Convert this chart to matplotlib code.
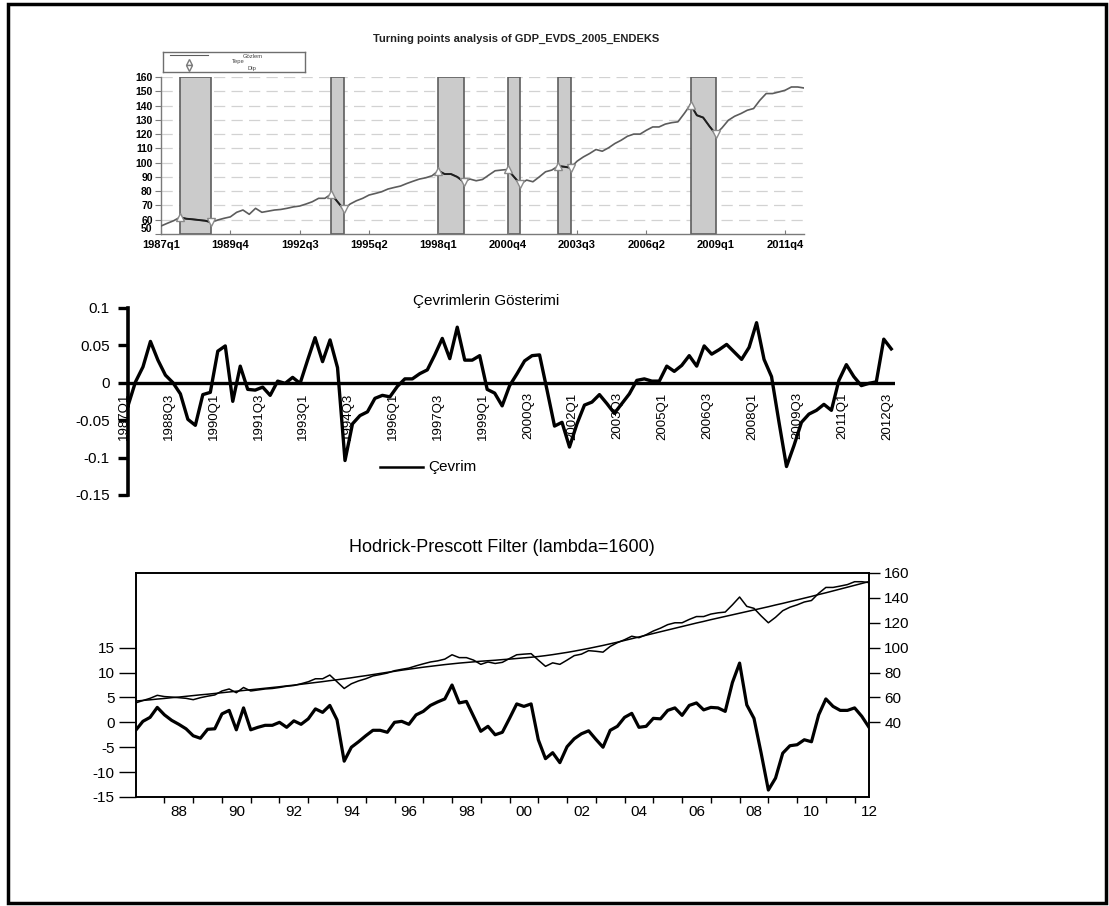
import numpy as np
import matplotlib
matplotlib.use("Agg")
import matplotlib.pyplot as plt
from matplotlib.lines import Line2D
from matplotlib.patches import Rectangle

plt.rcParams['font.family'] = ['Liberation Sans', 'DejaVu Sans']
plt.rcParams['axes.unicode_minus'] = False

W, H = 1109, 906

# GDP_EVDS_2005_ENDEKS, quarterly 1987q1 - 2012q3
gdp = [
    55.6, 57.5, 59.3, 61.7, 60.7, 60.3, 59.8, 59.3, 58.2, 59.8,
    61.0, 62.0, 65.2, 66.8, 63.8, 68.0, 65.2, 66.0, 66.8, 67.2,
    68.0, 69.0, 69.6, 71.0, 72.6, 75.0, 75.0, 78.0, 72.6, 67.2,
    71.0, 73.3, 75.0, 77.3, 78.4, 79.6, 81.5, 82.6, 83.6, 85.4,
    87.0, 88.5, 89.4, 90.8, 94.3, 92.0, 92.0, 90.0, 86.6, 88.5,
    87.3, 88.2, 91.3, 94.3, 94.8, 95.2, 90.0, 85.0, 87.8, 86.6,
    90.0, 93.6, 94.8, 97.6, 97.1, 96.4, 101.0, 104.0, 106.4, 109.2,
    108.0, 110.4, 113.4, 115.7, 118.5, 120.0, 120.0, 122.7, 125.0, 125.0,
    127.0, 128.0, 128.6, 134.4, 140.7, 133.2, 131.6, 125.5, 120.0, 124.4,
    129.7, 132.5, 134.4, 136.7, 137.9, 143.7, 148.4, 148.4, 149.5, 150.7,
    153.0, 153.0, 152.3,
]

# HP trend (lambda=1600)
hp_trend = [
    57.1, 57.6, 58.1, 58.7, 59.2, 59.8, 60.3, 60.9, 61.5, 62.1,
    62.6, 63.2, 63.8, 64.4, 65.0, 65.6, 66.2, 66.8, 67.4, 68.0,
    68.6, 69.3, 69.9, 70.6, 71.3, 72.0, 72.7, 73.5, 74.2, 75.0,
    75.8, 76.7, 77.5, 78.4, 79.3, 80.2, 81.0, 81.9, 82.7, 83.5,
    84.3, 85.0, 85.7, 86.4, 87.0, 87.6, 88.1, 88.6, 89.1, 89.5,
    89.9, 90.4, 90.8, 91.3, 91.8, 92.3, 92.9, 93.6, 94.4, 95.3,
    96.2, 97.2, 98.3, 99.4, 100.6, 101.8, 103.1, 104.4, 105.8, 107.2,
    108.6, 110.0, 111.4, 112.8, 114.2, 115.6, 117.0, 118.4, 119.8, 121.1,
    122.5, 123.8, 125.1, 126.4, 127.7, 129.0, 130.3, 131.6, 132.9, 134.3,
    135.6, 137.0, 138.4, 139.8, 141.2, 142.7, 144.1, 145.6, 147.1, 148.6,
    150.1, 151.6, 153.1,
]

# HP cycle in index points
hp_cycle = [
    -1.6, 0.2, 1.0, 3.0, 1.5, 0.4, -0.4, -1.3, -2.7, -3.2,
    -1.4, -1.3, 1.7, 2.4, -1.5, 2.9, -1.5, -1.0, -0.6, -0.6,
    0.0, -1.0, 0.3, -0.4, 0.7, 2.7, 2.0, 3.4, 0.5, -7.8,
    -5.0, -3.9, -2.7, -1.6, -1.6, -2.0, 0.0, 0.2, -0.4, 1.5,
    2.2, 3.4, 4.1, 4.7, 7.5, 3.9, 4.2, 1.2, -1.8, -0.8,
    -2.5, -2.0, 0.8, 3.7, 3.2, 3.7, -3.5, -7.3, -6.1, -8.1,
    -4.9, -3.3, -2.3, -1.7, -3.4, -5.0, -1.6, -0.8, 1.0, 1.8,
    -1.0, -0.8, 0.8, 0.7, 2.4, 2.9, 1.4, 3.4, 3.9, 2.5,
    3.0, 2.9, 2.2, 8.0, 11.9, 3.5, 0.8, -6.2, -13.6, -11.2,
    -6.2, -4.7, -4.5, -3.5, -3.9, 1.5, 4.7, 3.2, 2.4, 2.4,
    2.9, 1.2, -1.0,
]

# cycle as a ratio of trend
cevrim = [
    -0.031, 0.001, 0.021, 0.055, 0.030, 0.010, 0.000, -0.015, -0.049, -0.057,
    -0.016, -0.013, 0.042, 0.049, -0.025, 0.022, -0.009, -0.010, -0.006, -0.017,
    0.002, -0.001, 0.007, -0.001, 0.030, 0.060, 0.028, 0.057, 0.020, -0.104,
    -0.055, -0.044, -0.039, -0.021, -0.017, -0.019, -0.005, 0.005, 0.005, 0.012,
    0.017, 0.037, 0.059, 0.032, 0.074, 0.030, 0.030, 0.036, -0.009, -0.014,
    -0.031, -0.004, 0.012, 0.029, 0.036, 0.037, -0.010, -0.058, -0.053, -0.086,
    -0.055, -0.030, -0.026, -0.016, -0.028, -0.041, -0.028, -0.015, 0.003, 0.005,
    0.002, 0.002, 0.022, 0.015, 0.023, 0.036, 0.022, 0.049, 0.038, 0.044,
    0.051, 0.041, 0.031, 0.047, 0.080, 0.031, 0.008, -0.053, -0.112, -0.084,
    -0.053, -0.042, -0.037, -0.029, -0.037, 0.003, 0.024, 0.008, -0.004, -0.001,
    0.001, 0.058, 0.045,
]

# turning points (quarter index): peaks (Tepe) and troughs (Dip)
tepe = [3, 27, 44, 55, 63, 84]
dip = [8, 29, 48, 57, 65, 88]

top_labels = ['1987q1', '1989q4', '1992q3', '1995q2', '1998q1',
              '2000q4', '2003q3', '2006q2', '2009q1', '2011q4']
mid_labels = ['1987Q1', '1988Q3', '1990Q1', '1991Q3', '1993Q1', '1994Q3',
              '1996Q1', '1997Q3', '1999Q1', '2000Q3', '2002Q1', '2003Q3',
              '2005Q1', '2006Q3', '2008Q1', '2009Q3', '2011Q1', '2012Q3']
mid_ylabels = ['-0.15', '-0.1', '-0.05', '0', '0.05', '0.1']
hp_year_labels = ['88', '90', '92', '94', '96', '98', '00',
                  '02', '04', '06', '08', '10', '12']
hp_left_labels = ['-15', '-10', '-5', '0', '5', '10', '15']
hp_right_labels = ['40', '60', '80', '100', '120', '140', '160']


def px_axes(fig, x0, y0, x1, y1):
    return fig.add_axes([x0 / W, 1 - y1 / H, (x1 - x0) / W, (y1 - y0) / H])


def fx(x):
    return x / W


def fy(y):
    return 1 - y / H


fig = plt.figure(figsize=(W / 100, H / 100), dpi=100)
fig.patch.set_facecolor('white')

gdp_a = np.array(gdp)
q = np.arange(len(gdp))

# ---- turning points chart ----
ax1 = px_axes(fig, 161, 77, 804, 234)
ax1.set_xlim(0, len(gdp) - 1)
ax1.set_ylim(50, 160)
for v in range(60, 161, 10):
    ax1.axhline(v, color='#d2d2d2', lw=0.9, ls=(0, (9, 5)), zorder=0)
for p, t in zip(tepe, dip):
    ax1.axvspan(p, t, facecolor='#cbcbcb', edgecolor='#5e5e5e', lw=1.2, zorder=1)
ax1.plot(q, gdp_a, color='#5c5c5c', lw=1.2, zorder=3)
for p, t in zip(tepe, dip):
    ax1.plot(q[p:t + 1], gdp_a[p:t + 1], color='#1e1e1e', lw=1.4, zorder=4)
ax1.plot(tepe, gdp_a[tepe], '^', mfc='white', mec='#8a8a8a', ms=5.5, mew=1, zorder=5)
ax1.plot(dip, gdp_a[dip], 'v', mfc='white', mec='#8a8a8a', ms=5.5, mew=1, zorder=5)
for s in ['top', 'right']:
    ax1.spines[s].set_visible(False)
for s in ['left', 'bottom']:
    ax1.spines[s].set_color('#7a7a7a')
    ax1.spines[s].set_linewidth(1.0)
ax1.set_yticks(range(50, 161, 10))
ax1.set_xticks(np.arange(0, len(gdp), 11))
ax1.set_xticklabels(top_labels)
ax1.tick_params(axis='y', direction='out', length=4, color='#7a7a7a', pad=2,
                labelsize=7.5)
ax1.tick_params(axis='x', direction='in', length=3, color='#7a7a7a', pad=4,
                labelsize=8)
for lab in ax1.get_xticklabels() + ax1.get_yticklabels():
    lab.set_fontweight('bold')
# the 50 label sits a little higher so it clears the date labels
ax1.get_yticklabels()[0].set_verticalalignment('bottom')
fig.text(fx(516), fy(39), 'Turning points analysis of GDP_EVDS_2005_ENDEKS',
         ha='center', va='center', fontsize=8, fontweight='bold', color='#222222')

# legend box of the turning points chart
lg = px_axes(fig, 163, 52, 305, 72)
lg.set_xlim(163, 305)
lg.set_ylim(72, 52)
lg.set_xticks([])
lg.set_yticks([])
for s in lg.spines.values():
    s.set_color('#6e6e6e')
    s.set_linewidth(1.0)
lg.plot([170, 208], [55, 55], color='#5c5c5c', lw=0.8)
lg.plot([189], [62], '^', mfc='white', mec='#7a7a7a', ms=4.5, clip_on=False)
lg.plot([189], [68], 'v', mfc='white', mec='#7a7a7a', ms=4.5, clip_on=False)
lg.text(253, 56, 'Gözlem', fontsize=4.2, ha='center', va='center', color='#444444')
lg.text(238, 62, 'Tepe', fontsize=4.2, ha='center', va='center', color='#444444')
lg.text(252, 68.5, 'Dip', fontsize=4.2, ha='center', va='center', color='#444444')

# ---- cycle chart ----
ax2 = px_axes(fig, 128, 307.7, 895, 495)
ax2.set_xlim(0, 102.5)
ax2.set_ylim(-0.15, 0.1)
ax2.plot(q, cevrim, color='black', lw=2.4, zorder=3)
ax2.axhline(0, color='black', lw=2.4, zorder=2)
for s in ['top', 'right', 'bottom']:
    ax2.spines[s].set_visible(False)
ax2.spines['left'].set_linewidth(2.6)
ax2.set_yticks([-0.15, -0.1, -0.05, 0, 0.05, 0.1])
ax2.set_yticklabels(mid_ylabels)
ax2.set_xticks([])
ax2.tick_params(axis='y', direction='out', length=7, width=2.4, pad=6,
                labelsize=11)
for i, lab in zip(np.arange(0, len(cevrim), 6), mid_labels):
    ax2.annotate(lab, xy=(i, 0), xytext=(-3, -7), textcoords='offset points',
                 rotation=90, ha='center', va='top', fontsize=9.5)
fig.text(fx(486), fy(301), 'Çevrimlerin Gösterimi', ha='center', va='center',
         fontsize=11)
fig.add_artist(Line2D([fx(380), fx(423)], [fy(467), fy(467)], color='black',
                      lw=1.8, transform=fig.transFigure))
fig.text(fx(428), fy(467), 'Çevrim', ha='left', va='center', fontsize=11)

# ---- Hodrick-Prescott chart ----
ax3 = px_axes(fig, 135.7, 573, 869, 797)
ax3.set_xlim(0, len(gdp) - 1)
ax3.set_ylim(-15, 30)
ax3.plot(q, hp_cycle, color='black', lw=2.3, zorder=3)
ax3.set_yticks(range(-15, 16, 5))
ax3.set_yticklabels(hp_left_labels)
ax3.set_xticks(np.arange(4, len(gdp), 4))
ax3.set_xticklabels([])
ax3.set_xticks(np.arange(6, len(gdp), 8), minor=True)
ax3.set_xticklabels(hp_year_labels, minor=True)
ax3.tick_params(axis='x', which='major', direction='out', length=4, width=1)
ax3.tick_params(axis='x', which='minor', length=0, pad=6, labelsize=11)
ax3.tick_params(axis='y', direction='out', length=12, width=1, pad=3,
                labelsize=11)

ax3r = ax3.twinx()
ax3r.set_ylim(-20, 160)
ax3r.plot(q, gdp, color='black', lw=1.1)
ax3r.plot(q, hp_trend, color='black', lw=1.1)
ax3r.set_yticks(range(40, 161, 20))
ax3r.set_yticklabels(hp_right_labels)
ax3r.tick_params(axis='y', direction='out', length=8, width=1, pad=3,
                 labelsize=11)
for a in (ax3, ax3r):
    for s in a.spines.values():
        s.set_linewidth(1.2)
fig.text(fx(502), fy(548), 'Hodrick-Prescott Filter (lambda=1600)',
         ha='center', va='center', fontsize=13)

# outer frame
fig.add_artist(Rectangle((fx(8), fy(903)), (1106 - 8) / W, (903 - 4) / H,
                         transform=fig.transFigure, fill=False,
                         edgecolor='black', lw=2.5))

fig.savefig('out.png', dpi=100, facecolor='white')
